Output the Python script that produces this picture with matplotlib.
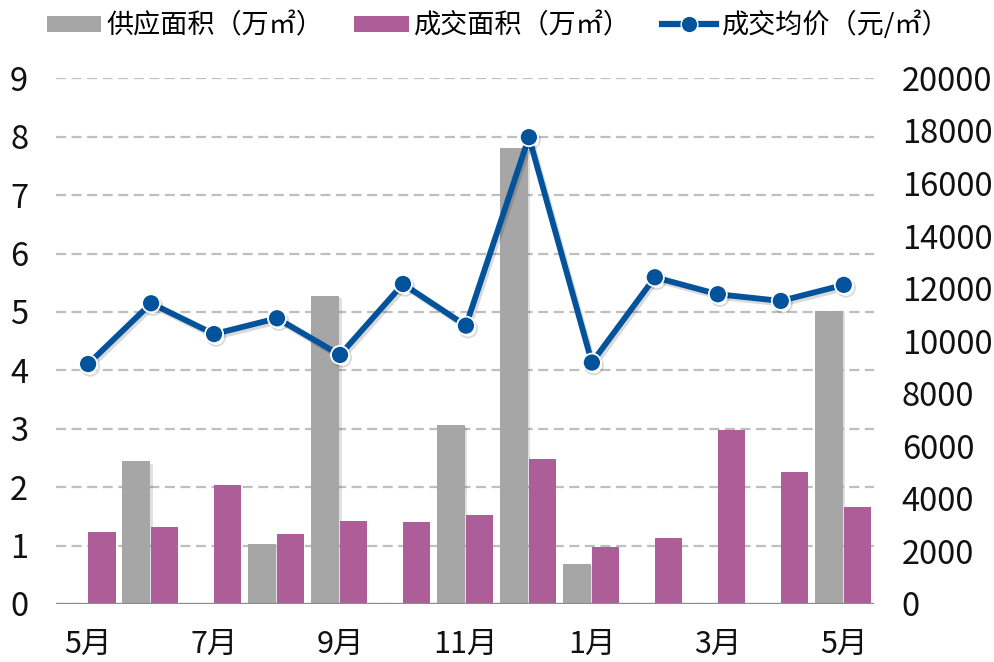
import matplotlib
matplotlib.use("Agg")
import matplotlib.pyplot as plt
import matplotlib.patheffects as pe
from matplotlib.patches import Patch
from matplotlib.lines import Line2D
import numpy as np

plt.rcParams['font.family'] = ['Noto Sans CJK SC', 'DejaVu Sans']

months = ['5月', '6月', '7月', '8月', '9月', '10月', '11月', '12月', '1月', '2月', '3月', '4月', '5月']
supply = [0, 2.44, 0, 1.02, 5.28, 0, 3.06, 7.80, 0.68, 0, 0, 0, 5.02]
deal = [1.24, 1.31, 2.03, 1.20, 1.42, 1.41, 1.52, 2.49, 0.98, 1.13, 2.98, 2.26, 1.66]
price = [9130, 11440, 10270, 10870, 9475, 12175, 10590, 17760, 9185, 12430, 11785, 11530, 12140]
tick_labels = ['5月', '', '7月', '', '9月', '', '11月', '', '1月', '', '3月', '', '5月']

GRAY = '#a6a6a6'
PURPLE = '#ad5e99'
BLUE = '#02529c'

fig = plt.figure(figsize=(9.94, 6.62), dpi=100)
ax = fig.add_axes([56/994, 58/662, (874-56)/994, (604-78.3)/662])
ax2 = ax.twinx()

x = np.arange(len(months))
w = 0.435
shadow = [pe.SimplePatchShadow(offset=(2, -1.5), shadow_rgbFace='k', alpha=0.12), pe.Normal()]
ax.bar(x - 0.455, supply, width=w, align='edge', color=GRAY, zorder=2, path_effects=shadow)
ax.bar(x, deal, width=w, align='edge', color=PURPLE, zorder=2)

ax.set_xlim(-0.51, 12.48)
ax.set_ylim(0, 9)
ax.set_yticks(range(0, 10))
ax.yaxis.grid(True, color='#bfbfbf', linestyle=(0, (4.5, 2.5)), linewidth=1.6, zorder=0)
ax.set_axisbelow(True)
ax.set_xticks(x)
ax.set_xticklabels(tick_labels)

ax2.plot(x, price, color=BLUE, linewidth=4.2, marker='o', markersize=13,
         markerfacecolor=BLUE, markeredgecolor='white', markeredgewidth=1.3, zorder=5,
         path_effects=[pe.SimpleLineShadow(offset=(1.5, -2), alpha=0.15), pe.Normal()])
ax2.set_ylim(0, 20000)
ax2.set_yticks(range(0, 20001, 2000))

for a in (ax, ax2):
    for s in ['top', 'left', 'right', 'bottom']:
        a.spines[s].set_visible(False)
    a.tick_params(length=0)

ax.axhline(0, color='#8c8c8c', linewidth=1.6, zorder=3)

ax.tick_params(axis='y', labelsize=23.5, pad=20, labelcolor='#111111')
ax.tick_params(axis='x', labelsize=22, pad=18, labelcolor='#111111')
ax2.tick_params(axis='y', labelsize=23.5, pad=20, labelcolor='#111111')

handles = [Patch(facecolor=GRAY), Patch(facecolor=PURPLE),
           Line2D([0], [0], color=BLUE, linewidth=4.5, marker='o', markersize=12,
                  markerfacecolor=BLUE, markeredgecolor='white', markeredgewidth=1.0)]
labels = ['供应面积（万㎡）', '成交面积（万㎡）', '成交均价（元/㎡）']
fig.legend(handles, labels, loc='center', bbox_to_anchor=(498/994, 1 - 25/662), ncol=3,
           frameon=False, fontsize=19.5, handlelength=2.0, handleheight=0.55,
           handletextpad=0.2, columnspacing=1.15)

fig.savefig('out.png', dpi=100)
